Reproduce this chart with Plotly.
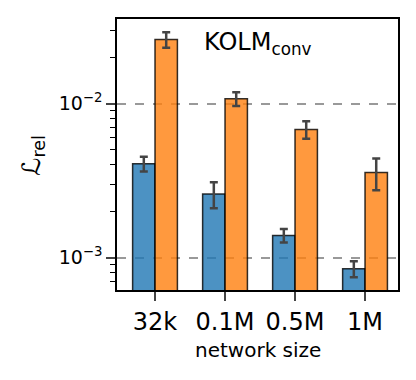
import plotly.graph_objects as go

sizes = ["32k", "0.1M", "0.5M", "1M"]
blue_vals = [4.07e-3, 2.59e-3, 1.39e-3, 8.45e-4]
blue_err = [0.45e-3, 0.50e-3, 0.14e-3, 1.0e-4]
orange_vals = [2.61e-2, 1.077e-2, 6.8e-3, 3.57e-3]
orange_err = [3.0e-3, 1.1e-3, 0.88e-3, 0.83e-3]

major_ticks = [1e-3, 1e-2]
major_text = ["10<sup>−3</sup>", "10<sup>−2</sup>"]
minor_ticks = [m * 10.0 ** e for e in (-4, -3, -2) for m in range(2, 10)]

FONT = "DejaVu Sans"
ERR = dict(type="data", symmetric=True, color="#444444", thickness=2.5, width=4)

fig = go.Figure()
fig.add_trace(go.Bar(x=sizes, y=blue_vals, error_y=dict(array=blue_err, **ERR),
    marker=dict(color="rgba(31,119,180,0.8)", line=dict(color="rgba(0,0,0,0.8)", width=1.5)),
    showlegend=False))
fig.add_trace(go.Bar(x=sizes, y=orange_vals, error_y=dict(array=orange_err, **ERR),
    marker=dict(color="rgba(255,127,14,0.8)", line=dict(color="rgba(0,0,0,0.8)", width=1.5)),
    showlegend=False))

# page body adds an 8px offset, so the figure is a bit smaller than the window
fig.update_layout(
    width=408, height=372,
    paper_bgcolor="white", plot_bgcolor="white",
    font=dict(family=FONT, color="black"),
    margin=dict(l=109, r=18, t=9, b=90),
    barmode="group", bargap=0.36, bargroupgap=0,
    xaxis=dict(range=[-0.543, 3.471], showline=True, linecolor="black", linewidth=1.5,
               mirror=True, ticks="outside", ticklen=9, tickwidth=1.5,
               tickfont=dict(size=24, family=FONT), showgrid=False),
    yaxis=dict(type="log", range=[-3.211, -1.450], showline=True, linecolor="black",
               linewidth=1.5, mirror=True, ticks="outside", ticklen=9, tickwidth=1.5,
               tickmode="array", tickvals=major_ticks, ticktext=major_text,
               tickfont=dict(size=19, family=FONT),
               showgrid=True, gridcolor="rgba(128,128,128,0.8)", gridwidth=1.5, griddash="dash",
               layer="above traces",
               minor=dict(tickmode="array", tickvals=minor_ticks, ticks="outside",
                          ticklen=5, tickwidth=1.2, tickcolor="black", showgrid=False)),
)

fig.add_annotation(text="KOLM<sub>conv</sub>", xref="x", yref="paper", x=1.47, y=0.908,
                   xanchor="center", yanchor="middle",
                   showarrow=False, font=dict(size=24, family=FONT))
fig.add_annotation(text="ℒ<sub>rel</sub>", xref="paper", yref="paper", x=-0.30, y=0.495,
                   xanchor="center", yanchor="middle",
                   textangle=-90, showarrow=False, font=dict(size=25, family=FONT))
fig.add_annotation(text="network size", xref="paper", yref="paper", x=0.5, y=-0.22,
                   xanchor="center", yanchor="middle",
                   showarrow=False, font=dict(size=20, family=FONT))

fig.write_html("out.html")
